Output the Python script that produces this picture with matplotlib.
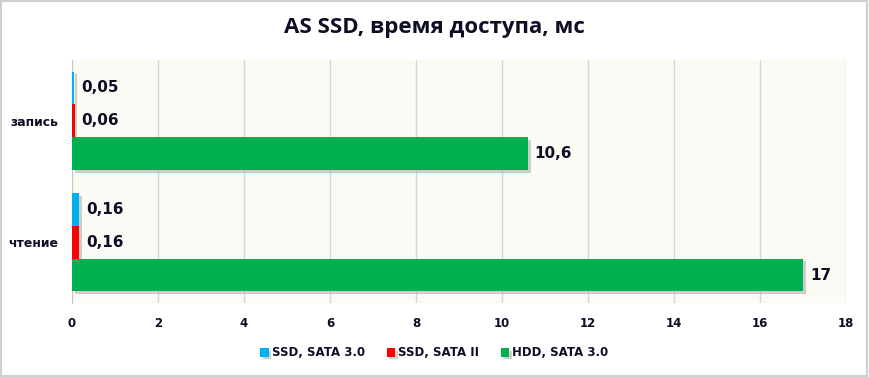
import numpy as np
import matplotlib.pyplot as plt
from matplotlib.patches import Rectangle
import matplotlib.patheffects as pe

# data
categories = ['чтение', 'запись']
series_names = ['SSD, SATA 3.0', 'SSD, SATA II', 'HDD, SATA 3.0']
ssd_sata3 = [0.16, 0.05]
ssd_sata2 = [0.16, 0.06]
hdd_sata3 = [17, 10.6]
value_labels = [['0,16', '0,05'], ['0,16', '0,06'], ['17', '10,6']]
colors = ['#00b0f0', '#ff0000', '#00b050']

text_color = '#0d0d26'
plt.rcParams['font.family'] = ['DejaVu Sans']

fig = plt.figure(figsize=(8.69, 3.77), dpi=100)
ax = fig.add_axes([72 / 869, 1 - 303 / 377, 774 / 869, 243 / 377])
ax.set_facecolor('#fbfaf4')

y = np.arange(len(categories))
h = 0.27
offsets = [h, 0, -h]
shadow = [pe.SimplePatchShadow(offset=(2, -2), shadow_rgbFace='#b0b0b0', alpha=0.6), pe.Normal()]
all_series = [ssd_sata3, ssd_sata2, hdd_sata3]
for vals, off, col, name, labs in zip(all_series, offsets, colors, series_names, value_labels):
    bars = ax.barh(y + off, vals, height=h, color=col, label=name, zorder=3, path_effects=shadow)
    for b, lab in zip(bars, labs):
        ax.annotate(lab, (b.get_width(), b.get_y() + b.get_height() / 2), xytext=(5, 0),
                    textcoords='offset points', va='center', ha='left', fontsize=11,
                    fontweight='bold', color=text_color, zorder=4)

ax.set_xlim(0, 18)
ax.set_ylim(-0.5, 1.5)
ax.set_xticks(np.arange(0, 19, 2))
ax.set_yticks(y)
ax.set_yticklabels(categories)
ax.tick_params(axis='both', length=0, labelsize=8.5, colors=text_color)
ax.tick_params(axis='x', pad=10)
ax.tick_params(axis='y', pad=10, labelsize=9)
for lab in ax.get_xticklabels() + ax.get_yticklabels():
    lab.set_fontweight('bold')
ax.grid(axis='x', color='#d6d6d6', linewidth=1, zorder=0)
for s in ['top', 'right', 'bottom']:
    ax.spines[s].set_visible(False)
ax.spines['left'].set_color('#c8c8c8')

fig.text(0.5, 1 - 28 / 377, 'AS SSD, время доступа, мс', ha='center', va='center',
         fontsize=16, fontweight='bold', family=['Open Sans', 'DejaVu Sans'], color=text_color)

leg = fig.legend(loc='center', bbox_to_anchor=(0.5, 1 - 353 / 377), ncol=3, frameon=False,
                 handlelength=0.7, handleheight=0.7, handletextpad=0.3, columnspacing=1.8,
                 prop={'size': 8.5, 'weight': 'bold'})
for t in leg.get_texts():
    t.set_color(text_color)

fig.patches.append(Rectangle((0.001, 0.002), 0.997, 0.995, transform=fig.transFigure,
                             fill=False, edgecolor='#d0d0d0', linewidth=1.5))

fig.savefig('out.png', dpi=100, facecolor='white')
